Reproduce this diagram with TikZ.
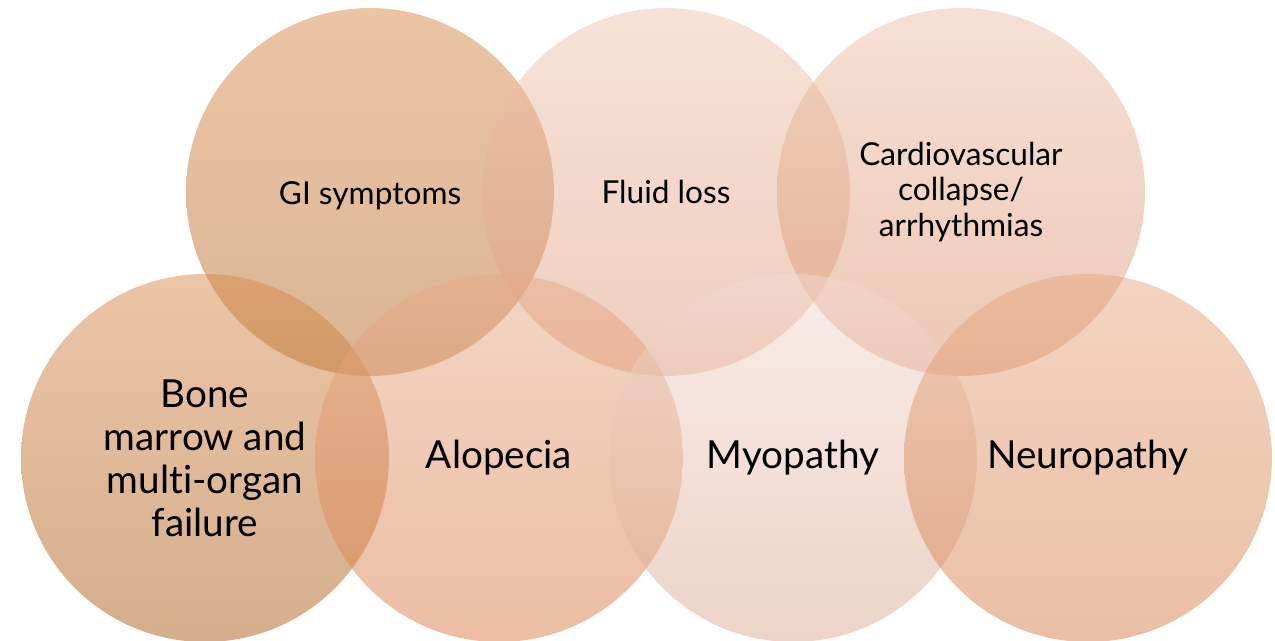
\documentclass[tikz,border=0pt]{standalone}
\usepackage{fontspec}
\setmainfont{Lato}[Ligatures=NoCommon]
\usetikzlibrary{positioning}
\definecolor{GiTop}{RGB}{215,137,73}
\definecolor{GiBottom}{RGB}{181,107,39}
\definecolor{FluidTop}{RGB}{239,197,177}
\definecolor{FluidBottom}{RGB}{221,155,123}
\definecolor{CardioTop}{RGB}{237,193,171}
\definecolor{CardioBottom}{RGB}{219,145,105}
\definecolor{BoneTop}{RGB}{215,139,77}
\definecolor{BoneBottom}{RGB}{171,93,25}
\definecolor{AlopeciaTop}{RGB}{231,171,137}
\definecolor{AlopeciaBottom}{RGB}{217,125,71}
\definecolor{MyoTop}{RGB}{243,217,209}
\definecolor{MyoBottom}{RGB}{219,169,145}
\definecolor{NeuroTop}{RGB}{231,169,131}
\definecolor{NeuroBottom}{RGB}{213,127,75}

\begin{document}
\begin{tikzpicture}[x=0.02cm,y=-0.02cm,
    bubble/.style={circle,minimum size=7.36cm,inner sep=0pt,fill opacity=0.5},
    smallText/.style={font=\fontsize{18}{20.2}\selectfont,align=center},
    bigText/.style={font=\fontsize{22}{24.5}\selectfont,align=center}]
    \useasboundingbox (0,0) rectangle (1275,641);
    % circles
    \foreach \name/\cx/\cy/\col in {gi/370/192/Gi,fluid/666/192/Fluid,cardio/961/192/Cardio,
        bone/205/458/Bone,alopecia/499/458/Alopecia,myopathy/793/458/Myo,neuro/1088/458/Neuro}
      \node[bubble,top color=\col Top,bottom color=\col Bottom] (\name) at (\cx,\cy) {};
    % labels
    \node[smallText] (giText) at ([yshift=-2pt]gi) {GI symptoms};
    \node[smallText] (fluidText) at (fluid) {Fluid loss};
    \node[smallText] (cardioText) at (cardio) {Cardiovascular\\collapse/\\arrhythmias};
    \node[bigText] (boneText) at (bone) {Bone\\marrow and\\multi-organ\\failure};
    \node[bigText] (alopeciaText) at (alopecia) {Alopecia};
    \node[bigText] (myopathyText) at (myopathy) {Myopathy};
    \node[bigText] (neuroText) at (neuro) {Neuropathy};
  \end{tikzpicture}
\end{document}
